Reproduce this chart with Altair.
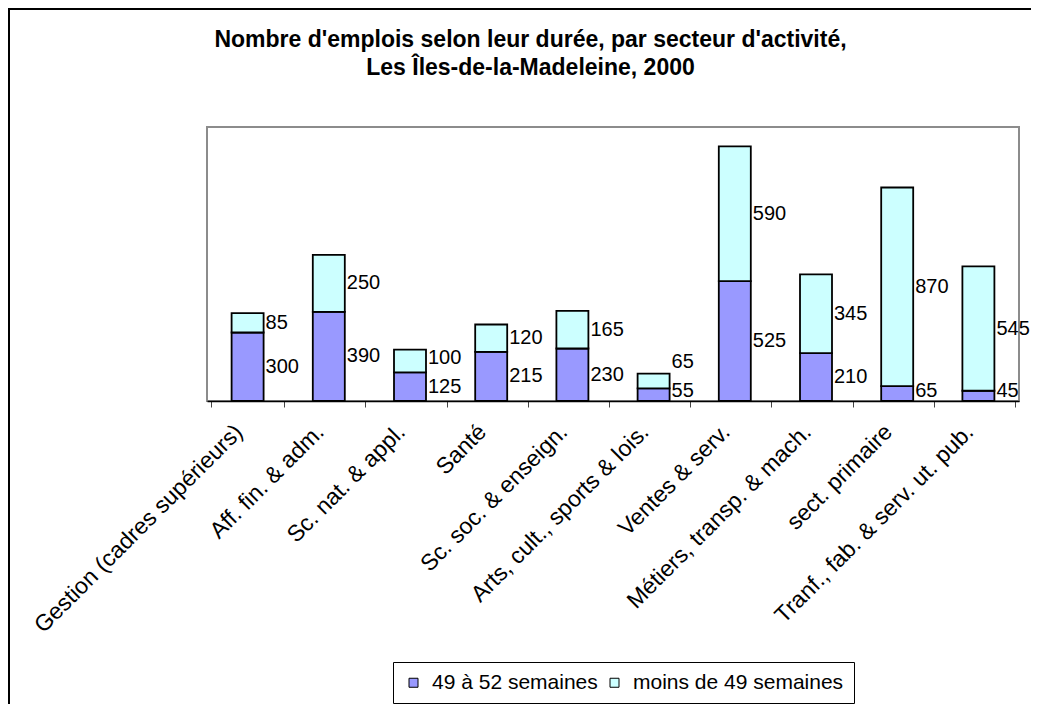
import altair as alt
import pandas as pd

FONT = "Liberation Sans"

categories = [
    "Gestion (cadres supérieurs)",
    "Aff. fin. & adm.",
    "Sc. nat. & appl.",
    "Santé",
    "Sc. soc. & enseign.",
    "Arts, cult., sports & lois.",
    "Ventes & serv.",
    "Métiers, transp. & mach.",
    "sect. primaire",
    "Tranf., fab. & serv. ut. pub.",
]
full_year = [300, 390, 125, 215, 230, 55, 525, 210, 65, 45]
part_year = [85, 250, 100, 120, 165, 65, 590, 345, 870, 545]
series = ["49 à 52 semaines", "moins de 49 semaines"]
colors = ["#9999FF", "#CCFFFF"]
title_lines = [
    "Nombre d'emplois selon leur durée, par secteur d'activité,",
    "Les Îles-de-la-Madeleine, 2000",
]

# bar table
rows = []
for c, a, b in zip(categories, full_year, part_year):
    rows.append({"cat": c, "series": series[0], "value": a, "order": 0})
    rows.append({"cat": c, "series": series[1], "value": b, "order": 1})
df = pd.DataFrame(rows)

# label table: centred on each segment, nudged apart when segments are thin
MIN_LOW = 45      # keep lower label clear of the axis (data units)
MIN_GAP = 125     # minimal spacing between the two labels (data units)
lab_rows = []
for c, a, b in zip(categories, full_year, part_year):
    low = max(a / 2, MIN_LOW)
    up = max(a + b / 2, low + MIN_GAP)
    lab_rows.append({"cat": c, "value": a, "ypos": low})
    lab_rows.append({"cat": c, "value": b, "ypos": up})
lab_df = pd.DataFrame(lab_rows)

W, H = 812, 274
PAD_L, PAD_T, PAD_R, PAD_B = 199, 119, 12, 303

bars = alt.Chart(df).mark_bar(size=32, stroke="black", strokeWidth=1.8).encode(
    x=alt.X(
        "cat:N",
        sort=categories,
        title=None,
        axis=alt.Axis(
            labelAngle=-45,
            labelAlign="right",
            labelBaseline="middle",
            labelFontSize=23,
            labelFont=FONT,
            labelColor="black",
            labelLimit=400,
            labelPadding=21,
            labelOffset=-9,
            labelOverlap=False,
            labelBound=False,
            tickBand="extent",
            tickSize=6,
            tickColor="#444444",
            tickWidth=1,
            domainColor="black",
            domainWidth=1.5,
            grid=False,
        ),
    ),
    y=alt.Y("value:Q", stack="zero", scale=alt.Scale(domain=[0, 1200], nice=False), axis=None),
    color=alt.Color(
        "series:N",
        scale=alt.Scale(domain=series, range=colors),
        legend=alt.Legend(
            orient="none",
            legendX=186,
            legendY=535,
            direction="horizontal",
            title=None,
            labelFontSize=21,
            labelFont=FONT,
            labelColor="black",
            labelLimit=400,
            symbolType="square",
            symbolSize=81,
            symbolStrokeColor="black",
            symbolStrokeWidth=1,
            strokeColor="black",
            fillColor="white",
            padding=10,
            labelOffset=8,
            columnPadding=6,
        ),
    ),
    order=alt.Order("order:Q"),
)

labels = alt.Chart(lab_df).mark_text(
    align="left", baseline="middle", dx=18, fontSize=20, font=FONT, color="black"
).encode(
    x=alt.X("cat:N", sort=categories),
    y=alt.Y("ypos:Q"),
    text=alt.Text("value:Q"),
)

title_layer = alt.Chart(alt.Data(values=[{"t": "\n".join(title_lines)}])).mark_text(
    lineBreak="\n",
    align="center",
    baseline="alphabetic",
    fontSize=23,
    fontWeight="bold",
    font=FONT,
    lineHeight=28,
    color="black",
).encode(x=alt.value(323.5), y=alt.value(-80), text="t:N")

frame_left = alt.Chart(alt.Data(values=[{}])).mark_rule(color="black", strokeWidth=2).encode(
    x=alt.value(1 - PAD_L), y=alt.value(-PAD_T), y2=alt.value(H + PAD_B)
)
frame_top = alt.Chart(alt.Data(values=[{}])).mark_rule(color="black", strokeWidth=2).encode(
    x=alt.value(-PAD_L), x2=alt.value(W + PAD_R), y=alt.value(1 - PAD_T)
)

chart = (
    alt.layer(frame_left, frame_top, bars, labels, title_layer)
    .properties(
        width=W,
        height=H,
        autosize=alt.AutoSizeParams(type="none"),
        padding={"left": PAD_L, "top": PAD_T, "right": PAD_R, "bottom": PAD_B},
    )
    .configure_view(stroke="#8c8c8c", strokeWidth=2)
)

chart.save("out.html", embed_options={"renderer": "svg", "actions": False})
